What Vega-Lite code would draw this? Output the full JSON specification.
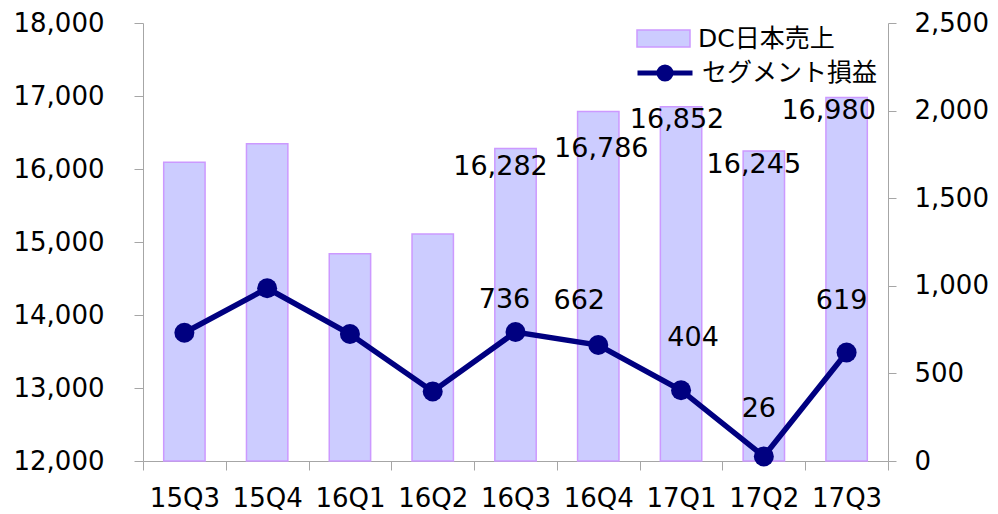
{
  "$schema": "https://vega.github.io/schema/vega-lite/v6.json",
  "width": 745,
  "height": 438,
  "autosize": {"type": "none"},
  "padding": {"left": 143, "top": 23, "right": 110, "bottom": 53},
  "background": "white",
  "config": {"view": {"stroke": null}, "font": "DejaVu Sans"},
  "data": {"values": [
    {"q": "15Q3", "sales": 16092, "profit": 732},
    {"q": "15Q4", "sales": 16347, "profit": 986},
    {"q": "16Q1", "sales": 14840, "profit": 725},
    {"q": "16Q2", "sales": 15108, "profit": 397},
    {"q": "16Q3", "sales": 16282, "profit": 736},
    {"q": "16Q4", "sales": 16786, "profit": 662},
    {"q": "17Q1", "sales": 16852, "profit": 404},
    {"q": "17Q2", "sales": 16245, "profit": 26},
    {"q": "17Q3", "sales": 16980, "profit": 619}
  ]},
  "encoding": {
    "x": {
      "field": "q", "type": "nominal", "sort": null,
      "scale": {"paddingInner": 0, "paddingOuter": 0},
      "axis": {"title": null, "labelAngle": 0, "tickBand": "extent", "domainColor": "#A6A6A6", "tickColor": "#A6A6A6", "tickSize": 9, "labelFontSize": 26, "labelColor": "black", "labelPadding": 15, "labelFont": "DejaVu Sans"}
    }
  },
  "layer": [
    {
      "encoding": {
        "y": {
          "field": "sales", "type": "quantitative",
          "scale": {"domain": [12000, 18000], "zero": false, "nice": false},
          "axis": {"title": null, "values": [12000, 13000, 14000, 15000, 16000, 17000, 18000], "format": ",d", "grid": false, "tickSize": 9, "labelPadding": 30, "labelFontSize": 26, "labelColor": "black", "domainColor": "#A6A6A6", "tickColor": "#A6A6A6", "labelFont": "DejaVu Sans"}
        }
      },
      "layer": [
        {
          "mark": {"type": "bar", "stroke": "#CC99FF", "strokeWidth": 1.5, "width": {"band": 0.5}},
          "encoding": {
            "y2": {"datum": 12000},
            "fill": {"datum": "DC日本売上", "scale": {"range": ["#CCCCFF"]},
              "legend": {"orient": "none", "legendX": 493, "legendY": -12, "title": null, "symbolType": "M-1,-0.32H1V0.32H-1Z", "symbolSize": 2809, "symbolStrokeColor": "#CC99FF", "symbolStrokeWidth": 1.5, "labelFontSize": 25, "labelFont": "DejaVu Sans, Noto Sans CJK JP", "labelColor": "black", "labelOffset": 7, "labelLimit": 400, "padding": 0}}
          }
        },
        {"transform": [{"filter": "datum.q == '16Q3'"}], "mark": {"type": "text", "fontSize": 27, "dx": -15, "dy": 19, "baseline": "middle", "color": "black"}, "encoding": {"text": {"field": "sales", "format": ",d"}}},
        {"transform": [{"filter": "datum.q == '16Q4'"}], "mark": {"type": "text", "fontSize": 27, "dx": 3, "dy": 37, "baseline": "middle", "color": "black"}, "encoding": {"text": {"field": "sales", "format": ",d"}}},
        {"transform": [{"filter": "datum.q == '17Q1'"}], "mark": {"type": "text", "fontSize": 27, "dx": -4, "dy": 13, "baseline": "middle", "color": "black"}, "encoding": {"text": {"field": "sales", "format": ",d"}}},
        {"transform": [{"filter": "datum.q == '17Q2'"}], "mark": {"type": "text", "fontSize": 27, "dx": -10, "dy": 14, "baseline": "middle", "color": "black"}, "encoding": {"text": {"field": "sales", "format": ",d"}}},
        {"transform": [{"filter": "datum.q == '17Q3'"}], "mark": {"type": "text", "fontSize": 27, "dx": -18, "dy": 14, "baseline": "middle", "color": "black"}, "encoding": {"text": {"field": "sales", "format": ",d"}}}
      ]
    },
    {
      "encoding": {
        "y": {
          "field": "profit", "type": "quantitative",
          "scale": {"domain": [0, 2500], "nice": false},
          "axis": {"orient": "right", "title": null, "values": [0, 500, 1000, 1500, 2000, 2500], "format": ",d", "grid": false, "tickSize": 8, "labelPadding": 18, "labelFontSize": 26, "labelColor": "black", "domainColor": "#A6A6A6", "tickColor": "#A6A6A6", "labelFont": "DejaVu Sans"}
        }
      },
      "layer": [
        {
          "mark": {"type": "line", "strokeWidth": 5.5},
          "encoding": {
            "stroke": {"datum": "セグメント損益", "scale": {"range": ["#000080"]},
              "legend": {"orient": "none", "legendX": 492, "legendY": 20, "title": null, "symbolType": "M-1,0H1M0.22,0A0.22,0.22,0,1,1,-0.22,0A0.22,0.22,0,1,1,0.22,0Z", "symbolSize": 3025, "symbolStrokeWidth": 5, "symbolFillColor": "#000080", "labelFontSize": 25, "labelFont": "DejaVu Sans, Noto Sans CJK JP", "labelColor": "black", "labelOffset": 7, "labelLimit": 400, "padding": 0}}
          }
        },
        {"mark": {"type": "point", "filled": true, "shape": "circle", "size": 400, "color": "#000080", "opacity": 1}},
        {"transform": [{"filter": "datum.q == '16Q3'"}], "mark": {"type": "text", "fontSize": 27, "dx": -11, "dy": -32, "baseline": "middle", "color": "black"}, "encoding": {"text": {"field": "profit", "format": ",d"}}},
        {"transform": [{"filter": "datum.q == '16Q4'"}], "mark": {"type": "text", "fontSize": 27, "dx": -19, "dy": -44, "baseline": "middle", "color": "black"}, "encoding": {"text": {"field": "profit", "format": ",d"}}},
        {"transform": [{"filter": "datum.q == '17Q1'"}], "mark": {"type": "text", "fontSize": 27, "dx": 12, "dy": -52, "baseline": "middle", "color": "black"}, "encoding": {"text": {"field": "profit", "format": ",d"}}},
        {"transform": [{"filter": "datum.q == '17Q2'"}], "mark": {"type": "text", "fontSize": 27, "dx": -5, "dy": -47, "baseline": "middle", "color": "black"}, "encoding": {"text": {"field": "profit", "format": ",d"}}},
        {"transform": [{"filter": "datum.q == '17Q3'"}], "mark": {"type": "text", "fontSize": 27, "dx": -5, "dy": -52, "baseline": "middle", "color": "black"}, "encoding": {"text": {"field": "profit", "format": ",d"}}}
      ]
    }
  ],
  "resolve": {"scale": {"y": "independent"}}
}
